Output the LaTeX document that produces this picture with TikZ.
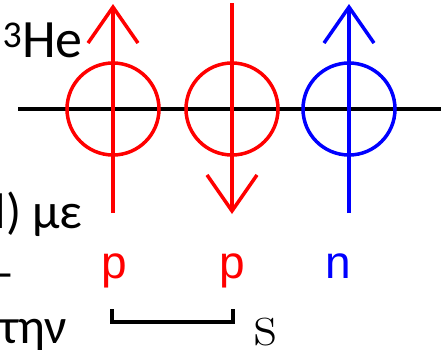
\documentclass[tikz,border=0pt]{standalone}
\usepackage{fontspec}
\usetikzlibrary{arrows.meta}
\newfontfamily\fragfont{Carlito}
\newfontfamily\labelfont{Liberation Sans}

\tikzstyle{proton}=[circle, draw=red, line width=3.5pt, minimum size=92pt, inner sep=0pt]
\tikzstyle{neutron}=[circle, draw=blue, line width=3.5pt, minimum size=92pt, inner sep=0pt]
\tikzstyle{spin}=[line width=3.5pt, -{Straight Barb[length=36pt, width=50pt, line width=3.5pt]}]
\tikzstyle{axis}=[black, line width=4pt]
\tikzstyle{nucleon}=[inner sep=0pt, anchor=base, font=\labelfont\fontsize{46}{50}\selectfont]
\tikzstyle{fragment}=[inner sep=0pt, anchor=base east, font=\fragfont\fontsize{50}{54}\selectfont]

\begin{document}
\begin{tikzpicture}[x=1pt, y=-1pt]
					\useasboundingbox (0,0) rectangle (441,349);

					% Text cut off at the left
					\node[fragment, font=\fragfont\fontsize{54}{58}\selectfont] (he) at (83,57) {\textsuperscript{3}He};
					\node[fragment] (me) at (83,228) {l) με};
					\node[fragment] (dash) at (15,289) {–};
					\node[fragment] (tin) at (67,343) {την};

					% Axis line
					\coordinate (axis west) at (18,109);
					\coordinate (axis east) at (441,109);
					\draw[axis] (axis west) -- (axis east);

					% Nucleons
					\node[proton] (p1) at (113,109) {};
					\node[proton] (p2) at (232,109) {};
					\node[neutron] (n1) at (349,109) {};

					% Spins
					\coordinate (p1 tail) at (113,213);
					\coordinate (p1 head) at (113,4);
					\coordinate (p2 tail) at (232,3);
					\coordinate (p2 head) at (232,214);
					\coordinate (n1 tail) at (349,213);
					\coordinate (n1 head) at (349,4);
					\draw[spin, red] (p1 tail) -- (p1 head);
					\draw[spin, red] (p2 tail) -- (p2 head);
					\draw[spin, blue] (n1 tail) -- (n1 head);

					\node[nucleon, text=red] (p1 label) at (114,278) {p};
					\node[nucleon, text=red] (p2 label) at (232,278) {p};
					\node[nucleon, text=blue] (n1 label) at (338,278) {n};

					% Spin pair
					\coordinate (s left) at (112,309);
					\coordinate (s right) at (233,309);
					\draw[line width=3.5pt] (s left) -- ++(0,13) -| (s right);
					\node[inner sep=0pt, anchor=base, font=\fontsize{62}{66}\selectfont] (s) at (266,345) {s};
				\end{tikzpicture}
\end{document}
